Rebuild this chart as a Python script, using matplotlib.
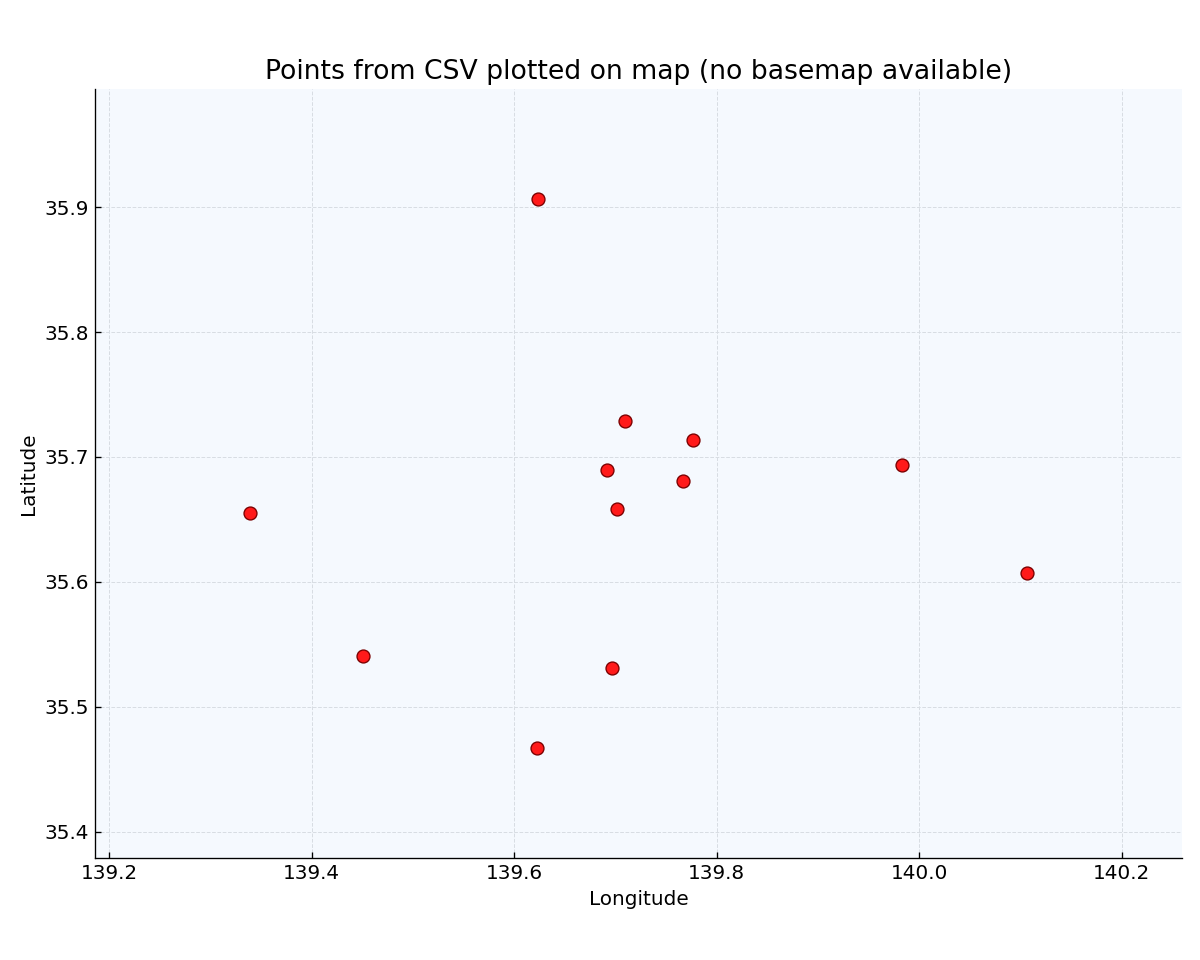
import matplotlib
matplotlib.use("Agg")
import matplotlib.pyplot as plt

lons = [139.6239, 139.7099, 139.7771, 139.6921, 139.7672, 139.7020,
        139.9826, 139.3393, 140.1061, 139.4510, 139.6970, 139.6229]
lats = [35.9064, 35.7290, 35.7138, 35.6897, 35.6809, 35.6584,
        35.6937, 35.6552, 35.6071, 35.5404, 35.5308, 35.4666]

fig, ax = plt.subplots(figsize=(10, 8), dpi=120)
ax.set_facecolor("#f5f9fe")
ax.scatter(lons, lats, s=60, color="#ff1a1a", edgecolor="#7a0000", linewidth=0.8, zorder=3)

xr = max(lons) - min(lons)
yr = max(lats) - min(lats)
ax.set_xlim(min(lons) - 0.2 * xr, max(lons) + 0.2 * xr)
ax.set_ylim(min(lats) - 0.2 * yr, max(lats) + 0.2 * yr)

ax.grid(True, linestyle="--", linewidth=0.6, color="#d8dde3", zorder=0)
ax.set_axisbelow(True)
for s in ["top", "right"]:
    ax.spines[s].set_visible(False)
ax.tick_params(direction="in", labelsize=12)
ax.set_xlabel("Longitude", fontsize=12)
ax.set_ylabel("Latitude", fontsize=12)
ax.set_title("Points from CSV plotted on map (no basemap available)", fontsize=16)
fig.subplots_adjust(left=0.079, right=0.985, top=0.907, bottom=0.106)
fig.savefig("out.png")
